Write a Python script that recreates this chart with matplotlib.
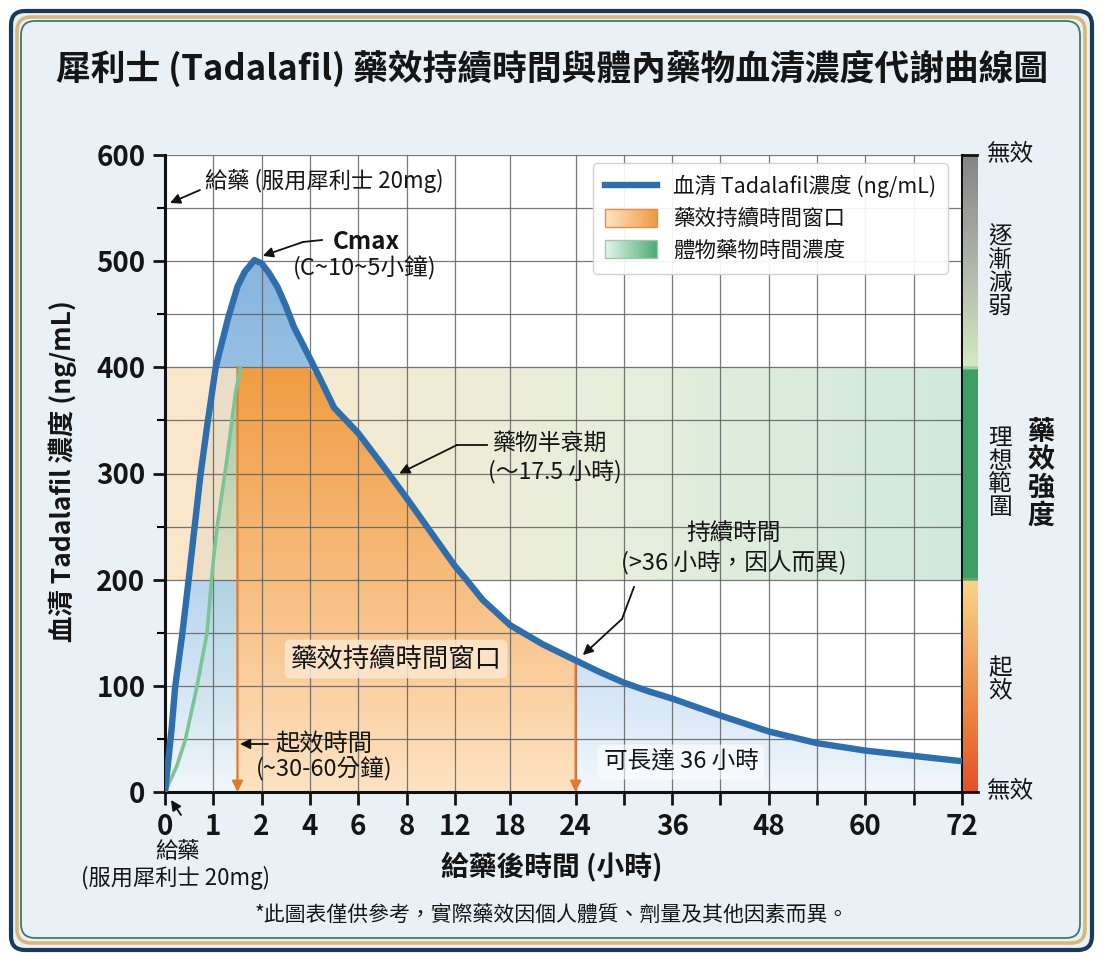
import numpy as np
import matplotlib
matplotlib.use("Agg")
import matplotlib.pyplot as plt
from matplotlib.colors import LinearSegmentedColormap
from matplotlib.patches import FancyBboxPatch, Rectangle
from matplotlib.lines import Line2D
from matplotlib.legend_handler import HandlerBase
import matplotlib.transforms as mtransforms

plt.rcParams['font.family'] = ['Noto Sans CJK TC', 'DejaVu Sans']

# ---------------- data ----------------
hours = [0, 0.14, 0.21, 0.35, 0.49, 0.73, 0.87, 1.05, 1.31, 1.5, 1.65, 1.85, 2.0, 2.3, 2.65,
         3.0, 3.34, 3.9, 4.45, 5.0, 6, 7, 8, 10, 12, 13.25, 15, 18, 21, 24, 27, 30, 33, 36,
         42, 48, 54, 60, 66, 72]
conc = [0, 61, 99, 146, 200, 297, 344, 400, 447, 476, 490, 501, 498, 489, 476,
        458, 438, 413, 388, 362, 338, 308, 277, 245, 213, 200, 181, 157, 139, 124, 113, 103, 95, 88,
        72, 57, 46, 39, 34, 29]

green_hours = [0, 0.24, 0.42, 0.66, 0.87, 1.0, 1.08, 1.28, 1.46, 1.56]
green_conc = [0, 24, 49, 99, 150, 218, 250, 313, 376, 400]

onset_h = 1.5
end_h = 24
range_low, range_high = 200, 400

xtick_vals = [0, 1, 2, 4, 6, 8, 12, 18, 24, 30, 36, 42, 48, 54, 60, 66, 72]
xtick_labels = ['0', '1', '2', '4', '6', '8', '12', '18', '24', '', '36', '', '48', '', '60', '', '72']
ytick_vals = [0, 100, 200, 300, 400, 500, 600]

legend_labels = ['血清 Tadalafil濃度 (ng/mL)', '藥效持續時間窗口', '體物藥物時間濃度']
strength_labels = ['無效', '逐\n漸\n減\n弱', '理\n想\n範\n圍', '起\n效', '無效']
strength_levels = [600, 490, 300, 105, 0]

# ---------------- figure ----------------
W, H = 1104, 960
fig = plt.figure(figsize=(W / 100, H / 100), dpi=100, facecolor='white')


def fp(x, y):
    return (x / W, 1 - y / H)


def frame(x0, y0, x1, y1, z, **kw):
    p = FancyBboxPatch((x0 / 100, (H - y1) / 100), (x1 - x0) / 100, (y1 - y0) / 100,
                       boxstyle='round,pad=0,rounding_size=0.14',
                       transform=fig.dpi_scale_trans, zorder=z, **kw)
    fig.add_artist(p)


frame(11, 11, 1092, 950, -5, fc='#e9f1f6', ec='#1b3a5a', lw=3)
frame(17, 17, 1085, 943, -4, fc='none', ec='#d8b777', lw=2.6)
frame(21, 21, 1080, 938, -3, fc='none', ec='#3e7a70', lw=1.3)

txt = '#151515'
fig.text(*fp(552, 68), '犀利士 (Tadalafil) 藥效持續時間與體內藥物血清濃度代謝曲線圖',
         ha='center', va='center', fontsize=25, fontweight='heavy', color=txt)

ax = fig.add_axes([165 / W, 1 - 792 / H, 797 / W, 637 / H])
ax.set_facecolor('white')

knot_h = [0, 1, 2, 4, 6, 8, 12, 18, 24, 72]
knot_p = [0, 1, 2, 3, 4, 5, 6, 7.15, 8.5, 16.5]


def fwd(x):
    return np.interp(x, knot_h, knot_p)


def inv(p):
    return np.interp(p, knot_p, knot_h)


ax.set_xscale('function', functions=(fwd, inv))

h = np.array(hours, dtype=float)
c = np.array(conc, dtype=float)


def grad_image(colors, direction, clip_coll, zorder, alpha=None):
    cmap = LinearSegmentedColormap.from_list('g', colors)
    g = np.linspace(0, 1, 256)
    arr = g.reshape(-1, 1) if direction == 'v' else g.reshape(1, -1)
    im = ax.imshow(arr, cmap=cmap, aspect='auto', extent=[0, 1, 0, 1], origin='lower',
                   transform=ax.transAxes, zorder=zorder, alpha=alpha, interpolation='bilinear')
    paths = clip_coll.get_paths()
    im.set_clip_path(paths[0], ax.transData)
    return im


# blue area under curve
blue_poly = ax.fill_between(h, 0, c, facecolor='none', edgecolor='none')
grad_image([(0, '#f2f7fc'), (0.167, '#d3e5f5'), (0.333, '#b7d4ee'), (0.833, '#86b5df'), (1, '#7fafdc')],
           'v', blue_poly, 0.1)

# therapeutic band
band_poly = ax.fill_between([0, 72], range_low, range_high, facecolor='none', edgecolor='none')
grad_image([(0, '#fbe2c0'), (0.12, '#f8e5c6'), (0.55, '#e4ecd6'), (1, '#c8e6d6')],
           'h', band_poly, 0.2, alpha=0.85)

# green absorption fill (fades downward)
green_poly = ax.fill_between(green_hours, 0, green_conc, facecolor='none', edgecolor='none')
grad_image([(0, (0.56, 0.80, 0.62, 0.0)), (0.333, (0.56, 0.80, 0.62, 0.15)),
            (0.667, (0.48, 0.77, 0.54, 0.75)), (1, (0.48, 0.77, 0.54, 0.75))],
           'v', green_poly, 0.25)

# orange efficacy window
win_mask = (h >= onset_h) & (h <= end_h)
orange_poly = ax.fill_between(h[win_mask], 0, np.minimum(c[win_mask], range_high),
                              facecolor='none', edgecolor='none')
grad_image([(0, '#fde3c3'), (0.333, '#f7bc7e'), (0.667, '#f09c42'), (1, '#f09c42')],
           'v', orange_poly, 0.3)

ax.plot(green_hours, green_conc, color='#7cc496', lw=2.6, zorder=2.8, solid_capstyle='round')
ax.plot(h, c, color='#2f6ead', lw=4.6, zorder=3, solid_capstyle='round', solid_joinstyle='round')

# window boundary arrows
for xv, ytop in [(onset_h, range_high), (end_h, np.interp(end_h, h, c))]:
    ax.annotate('', xy=(xv, 0), xytext=(xv, ytop),
                arrowprops=dict(arrowstyle='-|>', color='#e07a30', lw=1.6, mutation_scale=16,
                                shrinkA=0, shrinkB=0), zorder=2.5)

ax.set_xlim(0, 72)
ax.set_ylim(0, 600)
ax.set_xticks(xtick_vals)
ax.set_xticklabels(xtick_labels)
ax.set_yticks(ytick_vals)
ax.set_yticks([50, 150, 250, 350, 450, 550], minor=True)
ax.xaxis.set_minor_locator(matplotlib.ticker.NullLocator())
ax.set_axisbelow(True)
ax.grid(True, which='both', color='#5f5f5f', lw=0.9, alpha=0.85)
ax.tick_params(axis='both', which='major', length=9, width=2, labelsize=20, colors=txt, direction='out')
ax.tick_params(axis='x', pad=6)
ax.tick_params(axis='y', pad=5)
ax.tick_params(axis='y', which='minor', length=6, width=1.5)
for lab in ax.get_xticklabels() + ax.get_yticklabels():
    lab.set_fontweight('bold')
for s in ['left', 'bottom', 'right']:
    ax.spines[s].set_linewidth(2.2)
    ax.spines[s].set_color('#111111')
ax.spines['top'].set_visible(False)

# strength strip
cax = fig.add_axes([963 / W, 1 - 792 / H, 15 / W, 637 / H])
strip_cmap = LinearSegmentedColormap.from_list('s', [
    (0, '#e4512b'), (0.12, '#ee8340'), (0.333, '#f8d68a'), (0.3334, '#3d9e66'),
    (0.6666, '#3d9e66'), (0.6667, '#d6eac4'), (0.83, '#b0b5ab'), (1, '#858585')])
cax.imshow(np.linspace(0, 1, 600).reshape(-1, 1), cmap=strip_cmap, aspect='auto',
           extent=[0, 1, 0, 600], origin='lower', interpolation='bilinear')
cax.set_xlim(0, 1)
cax.set_ylim(0, 600)
cax.axis('off')
fig.add_artist(Line2D([962 / W, 977 / W], [1 - 155 / H, 1 - 155 / H], transform=fig.transFigure,
                      color='#111111', lw=2))
fig.add_artist(Line2D([962 / W, 978 / W], [1 - 792 / H, 1 - 792 / H], transform=fig.transFigure,
                      color='#111111', lw=2))

bt = mtransforms.blended_transform_factory(fig.transFigure, cax.transData)
for lab, lev in zip(strength_labels, strength_levels):
    if '\n' in lab:
        fig.text(1000 / W, lev, lab, transform=bt, ha='center', va='center', fontsize=17,
                 color=txt, linespacing=1.0)
    else:
        fig.text(986 / W, lev, lab, transform=bt, ha='left', va='center', fontsize=17, color=txt)
fig.text(1041 / W, 300, '藥\n效\n強\n度', transform=bt, ha='center', va='center', fontsize=19.5,
         fontweight='bold', color=txt, linespacing=1.0)

# axis labels
fig.text(*fp(552, 866), '給藥後時間 (小時)', ha='center', va='center', fontsize=20,
         fontweight='bold', color=txt)
fig.text(*fp(63, 471), '血清 Tadalafil 濃度 (ng/mL)', ha='center', va='center', fontsize=19,
         fontweight='bold', color=txt, rotation=90)
fig.text(*fp(552, 915), '*此圖表僅供參考，實際藥效因個人體質、劑量及其他因素而異。',
         ha='center', va='center', fontsize=15, color=txt)

# annotations
arrow_kw = dict(arrowstyle='-|>', color='#111111', lw=1.3, mutation_scale=15, shrinkA=0, shrinkB=0)


def kinked(points_px, tip_data=None, tip_px=None):
    pts = [fp(*p) for p in points_px]
    if len(pts) > 1:
        fig.add_artist(Line2D([p[0] for p in pts], [p[1] for p in pts], transform=fig.transFigure,
                              color='#111111', lw=1.3))
    if tip_data is not None:
        ax.annotate('', xy=tip_data, xycoords='data', xytext=pts[-1], textcoords='figure fraction',
                    arrowprops=arrow_kw, annotation_clip=False, zorder=5)
    else:
        ax.annotate('', xy=fp(*tip_px), xycoords='figure fraction', xytext=pts[-1],
                    textcoords='figure fraction', arrowprops=arrow_kw, annotation_clip=False, zorder=5)


fig.text(*fp(205, 181), '給藥 (服用犀利士 20mg)', ha='left', va='center', fontsize=16, color=txt)
kinked([(200, 190)], tip_px=(170, 203))

fig.text(*fp(366, 242), 'Cmax', ha='center', va='center', fontsize=17.5, fontweight='bold', color=txt)
fig.text(*fp(365, 268), '(C~10~5小鐘)', ha='center', va='center', fontsize=17, color=txt)
kinked([(322, 240), (303, 242)], tip_data=(2.05, 505))

fig.text(*fp(549, 443), '藥物半衰期', ha='center', va='center', fontsize=16.5, color=txt)
fig.text(*fp(555, 471), '(～17.5 小時)', ha='center', va='center', fontsize=16.5, color=txt)
kinked([(487, 445), (457, 445)], tip_data=(7.7, 300))

fig.text(*fp(734, 533), '持續時間', ha='center', va='center', fontsize=17, color=txt)
fig.text(*fp(734, 563), '(>36 小時，因人而異)', ha='center', va='center', fontsize=17, color=txt)
kinked([(634, 587), (622, 619)], tip_data=(24.9, 129))

fig.text(*fp(396, 659), '藥效持續時間窗口', ha='center', va='center', fontsize=19, color=txt,
         bbox=dict(boxstyle='round,pad=0.22', fc='#fde8cf', ec='none', alpha=0.85))

fig.text(*fp(275, 744), '起效時間', ha='left', va='center', fontsize=17.5, color=txt)
fig.text(*fp(324, 769), '(~30-60分鐘)', ha='center', va='center', fontsize=17, color=txt)
kinked([(268, 744)], tip_px=(240, 744))

fig.text(*fp(681, 762), '可長達 36 小時', ha='center', va='center', fontsize=17, color=txt,
         bbox=dict(boxstyle='round,pad=0.25', fc='white', ec='none', alpha=0.6))

fig.text(*fp(177, 852), '給藥', ha='center', va='center', fontsize=16, color=txt)
fig.text(*fp(176, 878), '(服用犀利士 20mg)', ha='center', va='center', fontsize=16, color=txt)
kinked([(181, 815)], tip_px=(171, 800))


# legend
class GradHandler(HandlerBase):
    def __init__(self, c0, c1, ec):
        super().__init__()
        self.cmap = LinearSegmentedColormap.from_list('l', [c0, c1])
        self.ec = ec

    def create_artists(self, legend, orig_handle, xdescent, ydescent, width, height, fontsize, trans):
        n = 30
        arts = []
        for i in range(n):
            arts.append(Rectangle((-xdescent + width * i / n, -ydescent), width / n * 1.1, height,
                                  fc=self.cmap(i / (n - 1)), ec='none', transform=trans))
        arts.append(Rectangle((-xdescent, -ydescent), width, height, fc='none', ec=self.ec, lw=1,
                              transform=trans))
        return arts


h_line = Line2D([], [], color='#2f6ead', lw=4.6)
h_orange = Rectangle((0, 0), 1, 1)
h_green = Rectangle((0, 0), 1, 1)
leg = ax.legend([h_line, h_orange, h_green], legend_labels, loc='upper right',
                bbox_to_anchor=(0.982, 0.987), borderaxespad=0, fontsize=15.5, frameon=True,
                fancybox=True, framealpha=0.92, edgecolor='#d0d0d0', handlelength=2.4,
                handleheight=0.9, handletextpad=0.75, labelspacing=0.45, borderpad=0.55,
                handler_map={h_orange: GradHandler('#fde3c4', '#f09c42', '#e0904a'),
                             h_green: GradHandler('#e6f3ea', '#4fae78', '#9ac9ab')})
leg.set_zorder(6)
for t in leg.get_texts():
    t.set_color(txt)

fig.savefig('out.png', dpi=100, facecolor='white')
